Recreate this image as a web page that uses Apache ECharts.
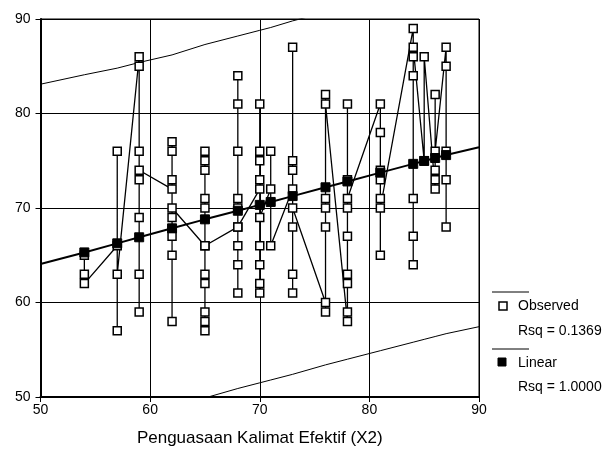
<!DOCTYPE html>
<html><head><meta charset="utf-8">
<script src="https://cdn.jsdelivr.net/npm/echarts@6/dist/echarts.min.js"></script>
<style>html,body{margin:0;padding:0;background:#fff}#c{width:606px;height:461px}</style>
</head><body><div id="c"></div>
<script>
// Observed values, grouped by X2 in drawing order
const obsGroups = [
  [54, [65, 63, 62]],
  [57, [66, 76, 57, 63]],
  [59, [86, 85, 59, 63, 69, 73, 76, 74]],
  [62, [72, 77, 76, 73, 58, 65, 67, 69, 70]],
  [65, [66, 76, 75, 74, 71, 70, 57, 58, 59, 62, 63, 66]],
  [68, [68, 84, 81, 76, 71, 70, 61, 64, 66, 68]],
  [70, [72, 81, 76, 75, 73, 61, 62, 64, 66, 69]],
  [71, [72, 76, 66]],
  [73, [72, 87, 75, 74, 61, 63, 68, 70]],
  [76, [60, 59, 68, 70, 71, 82, 81]],
  [78, [58, 59, 62, 63, 67, 70, 73, 81, 71]],
  [81, [81, 78, 74, 73, 71, 65, 70]],
  [84, [89, 64, 67, 71, 84, 86, 87]],
  [85, [75, 86]],
  [86, [72, 73, 74, 82, 76]],
  [87, [87, 85, 76, 73, 68]]
];
// Linear fit (predicted) values
const fitX = [50, 54, 57, 59, 62, 65, 68, 70, 71, 73, 76, 78, 81, 84, 85, 86, 87, 90];
const fitY = [64.07, 65.3, 66.26, 66.9, 67.85, 68.8, 69.71, 70.33, 70.64, 71.26, 72.19, 72.81, 73.74, 74.67, 74.98, 75.29, 75.6, 76.42];
// Upper / lower prediction bounds
const upX = [50, 54, 57, 59, 62, 65, 68, 70, 71, 73, 75];
const upY = [83.1, 84.1, 84.8, 85.4, 86.2, 87.3, 88.2, 88.8, 89.1, 89.8, 90.4];
const loX = [64, 65, 68, 70, 71, 73, 76, 78, 81, 84, 85, 86, 87, 90];
const loY = [49.6, 49.9, 50.9, 51.5, 51.8, 52.4, 53.4, 54.0, 54.9, 55.8, 56.1, 56.4, 56.7, 57.44];
const xTicks = [50, 60, 70, 80, 90];
const yTicks = [50, 60, 70, 80, 90];
const xTitle = 'Penguasaan Kalimat Efektif (X2)';
const legendLabels = ['Observed', 'Rsq = 0.1369', 'Linear', 'Rsq = 1.0000'];

const obsData = [];
obsGroups.forEach(g => g[1].forEach(v => obsData.push([g[0], v])));
const dataX = obsGroups.map(g => g[0]);
const fitData = fitX.map((x, i) => ({value: [x, fitY[i]], symbol: dataX.indexOf(x) >= 0 ? 'rect' : 'none'}));

const FONT = 'Liberation Sans, Arial, sans-serif';
const chart = echarts.init(document.getElementById('c'), null, {renderer: 'canvas'});
const gl = 40.5, gr = 479, gt = 19, gb = 397;
chart.setOption({
  animation: false,
  backgroundColor: '#fff',
  grid: {left: gl, right: 606 - gr, top: gt, bottom: 461 - gb, show: true, borderColor: '#000', borderWidth: 1, backgroundColor: 'transparent'},
  xAxis: {
    type: 'value', min: xTicks[0], max: xTicks[xTicks.length - 1], interval: 10,
    axisLine: {show: true, onZero: false, lineStyle: {color: '#000', width: 2}},
    axisTick: {show: true, length: 5, lineStyle: {color: '#000'}},
    axisLabel: {color: '#000', fontFamily: FONT, fontSize: 14, margin: 6},
    splitLine: {show: true, lineStyle: {color: '#000', width: 1}},
    name: xTitle, nameLocation: 'middle', nameGap: 33,
    nameTextStyle: {color: '#000', fontFamily: FONT, fontSize: 17}
  },
  yAxis: {
    type: 'value', min: yTicks[0], max: yTicks[yTicks.length - 1], interval: 10,
    axisLine: {show: true, onZero: false, lineStyle: {color: '#000', width: 2}},
    axisTick: {show: true, length: 5, lineStyle: {color: '#000'}},
    axisLabel: {color: '#000', fontFamily: FONT, fontSize: 14, margin: 10},
    splitLine: {show: true, lineStyle: {color: '#000', width: 1}}
  },
  series: [
    {type: 'line', data: upX.map((x, i) => [x, upY[i]]), symbol: 'none', clip: true,
     lineStyle: {color: '#000', width: 1}, z: 2},
    {type: 'line', data: loX.map((x, i) => [x, loY[i]]), symbol: 'none', clip: true,
     lineStyle: {color: '#000', width: 1}, z: 2},
    {name: 'Observed', type: 'line', data: obsData, symbol: 'rect', symbolSize: 8, clip: true,
     lineStyle: {color: '#000', width: 1.3}, itemStyle: {color: '#fff', borderColor: '#000', borderWidth: 1.5}, z: 3},
    {name: 'Linear', type: 'line', data: fitData, symbolSize: 9, clip: true,
     lineStyle: {color: '#000', width: 2}, itemStyle: {color: '#000', borderColor: '#000'}, z: 4}
  ],
  graphic: [
    {type: 'line', shape: {x1: 492, y1: 292, x2: 529, y2: 292}, style: {stroke: '#000', lineWidth: 1}},
    {type: 'rect', shape: {x: 499, y: 302, width: 8, height: 8}, style: {fill: '#fff', stroke: '#000', lineWidth: 1.5}},
    {type: 'text', left: 518, top: 299, style: {text: legendLabels[0], font: '14px ' + FONT, fill: '#000'}},
    {type: 'text', left: 518, top: 324, style: {text: legendLabels[1], font: '14px ' + FONT, fill: '#000'}},
    {type: 'line', shape: {x1: 492, y1: 349, x2: 529, y2: 349}, style: {stroke: '#000', lineWidth: 1}},
    {type: 'rect', shape: {x: 498, y: 358, width: 8, height: 8}, style: {fill: '#000', stroke: '#000', lineWidth: 1}},
    {type: 'text', left: 518, top: 356, style: {text: legendLabels[2], font: '14px ' + FONT, fill: '#000'}},
    {type: 'text', left: 518, top: 380, style: {text: legendLabels[3], font: '14px ' + FONT, fill: '#000'}}
  ]
});
</script></body></html>
